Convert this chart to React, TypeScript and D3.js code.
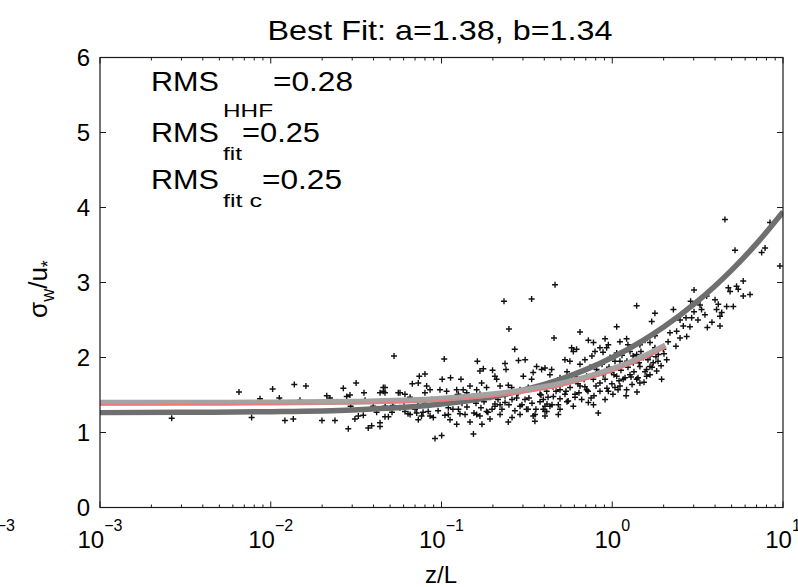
import React from 'react';
import * as d3 from 'd3';

const W = 798;
const H = 587;

// axis definitions
const xDomain: [number, number] = [1e-3, 10];
const yDomain: [number, number] = [0, 6];
const xTickExponents = [-3, -2, -1, 0, 1];
const yTicks = [0, 1, 2, 3, 4, 5, 6];

// HHF reference curve (dark grey)
const hhfZL = [0.001, 0.003, 0.01, 0.03, 0.1, 0.2, 0.3, 0.5, 0.7, 1, 1.5, 2, 3, 4, 5, 7, 10];
const hhfSigma = [1.265, 1.269, 1.277, 1.3, 1.379, 1.477, 1.563, 1.712, 1.838, 1.999, 2.222, 2.406, 2.708, 2.954, 3.165, 3.518, 3.942];

// best fit curve (light grey) and constrained fit (red)
const fitZL = [0.001, 0.003, 0.01, 0.03, 0.1, 0.2, 0.3, 0.5, 0.7, 1, 1.5, 2.05];
const fitSigma = [1.395, 1.397, 1.4, 1.41, 1.45, 1.51, 1.56, 1.65, 1.735, 1.845, 2.005, 2.16];
const fitCSigma = [1.37, 1.372, 1.376, 1.386, 1.425, 1.48, 1.53, 1.62, 1.705, 1.815, 1.975, 2.135];

// observations: [log10(z/L), sigma_w/u*]
const scatterPoints: [number, number][] = [
  [-2.58, 1.19], [-2.186, 1.54], [-2.112, 1.2], [-1.989, 1.58], [-1.95, 1.46], [-1.917, 1.16], [-1.868, 1.18],
  [-1.862, 1.64], [-1.794, 1.62], [-1.7, 1.16], [-1.672, 1.49], [-1.624, 1.16], [-1.575, 1.59], [-1.555, 1.48],
  [-1.5, 1.66], [-1.454, 1.53], [-1.546, 1.05], [-1.507, 1.18], [-1.487, 1.22], [-1.532, 1.35], [-1.429, 1.06],
  [-1.409, 1.09], [-1.458, 1.23], [-1.36, 1.53], [-1.341, 1.55], [-1.331, 1.6], [-1.38, 1.27], [-1.36, 1.13],
  [-1.36, 1.08], [-1.311, 1.21], [-1.278, 2.02], [-1.253, 1.53], [-1.4, 1.35], [-1.33, 1.35], [-1.285, 1.36],
  [-0.634, 2.75], [-0.472, 2.78], [-0.605, 2.38], [-0.571, 2.11], [-0.984, 1.98], [-0.79, 1.95], [-0.549, 1.96],
  [-0.51, 1.97], [-0.628, 1.92], [-0.755, 1.85], [-0.775, 1.82], [-0.701, 1.83], [-0.622, 1.84], [-0.443, 1.88],
  [-0.414, 1.84], [-1.13, 1.75], [-1.097, 1.78], [-1.171, 1.65], [-1.136, 1.66], [-0.996, 1.71], [-0.947, 1.73],
  [-0.886, 1.71], [-0.687, 1.75], [-0.677, 1.71], [-0.521, 1.75], [-0.472, 1.71], [-0.463, 1.8], [-0.765, 1.66],
  [-1.087, 1.62], [-1.067, 1.57], [-1.097, 1.53], [-1.009, 1.57], [-0.97, 1.55], [-0.911, 1.57], [-0.873, 1.57],
  [-0.833, 1.62], [-0.794, 1.57], [-0.736, 1.6], [-0.657, 1.62], [-0.609, 1.63], [-0.589, 1.6], [-0.54, 1.57],
  [-0.492, 1.6], [-0.423, 1.6], [-0.384, 1.62], [-1.243, 1.53], [-1.214, 1.51], [-1.341, 1.6], [-1.331, 1.53],
  [-1.214, 1.28], [-1.184, 1.24], [-1.145, 1.26], [-1.117, 1.22], [-1.078, 1.28], [-1.048, 1.2], [-1.136, 1.17],
  [-0.96, 1.33], [-0.96, 1.24], [-0.95, 1.17], [-0.911, 1.11], [-0.901, 1.31], [-0.833, 1.14], [-0.813, 0.98],
  [-1.038, 0.92], [-0.999, 0.96], [-0.794, 1.24], [-0.775, 1.22], [-0.736, 1.28], [-0.716, 1.18], [-0.687, 1.35],
  [-0.657, 1.37], [-0.628, 1.4], [-0.609, 1.14], [-0.56, 1.46], [-0.54, 1.35], [-0.502, 1.31], [-0.463, 1.22],
  [-0.453, 1.15], [-0.423, 1.51], [-0.394, 1.35], [-0.384, 1.28], [-0.901, 1.51], [-0.852, 1.53], [-0.813, 1.48],
  [-0.775, 1.51],
  [-0.335, 2.97], [0.143, 2.69], [0.25, 2.59], [0.358, 2.64], [0.231, 2.48], [0.309, 2.42], [0.026, 2.41],
  [-0.189, 2.34], [-0.341, 2.26], [-0.14, 2.23], [-0.11, 2.2], [-0.042, 2.25], [-0.023, 2.17], [0.084, 2.25],
  [0.162, 2.17], [0.221, 2.2], [0.338, 2.33], [0.377, 2.35], [0.416, 2.42], [0.397, 2.26], [0.436, 2.28],
  [-0.238, 2.13], [-0.228, 2.08], [-0.209, 2.11], [-0.101, 2.08], [-0.033, 2.13], [0.026, 2.06], [-0.277, 1.97],
  [-0.248, 1.95], [-0.189, 1.91], [-0.394, 1.86], [-0.355, 1.84], [-0.365, 1.77], [0.104, 2.08], [0.143, 2.04],
  [0.182, 2.0], [0.221, 2.02], [0.27, 2.04], [0.299, 2.11], [0.319, 1.97], [0.045, 1.95], [0.084, 1.91],
  [0.123, 1.93], [0.162, 1.88], [0.201, 1.84], [0.24, 1.93], [-0.033, 1.84], [-0.004, 1.8], [0.026, 1.75],
  [0.064, 1.71], [0.104, 1.77], [0.143, 1.71], [0.045, 1.62], [-0.15, 1.75], [-0.111, 1.71], [-0.072, 1.66],
  [-0.053, 1.77], [-0.092, 1.84], [-0.189, 1.62], [-0.15, 1.57], [-0.218, 1.51], [-0.179, 1.44], [-0.14, 1.4],
  [-0.11, 1.37], [-0.042, 1.44], [-0.306, 1.57], [-0.277, 1.51], [-0.345, 1.48], [-0.384, 1.55], [-0.404, 1.44],
  [-0.365, 1.35], [-0.316, 1.37], [-0.258, 1.42], [-0.228, 1.35], [-0.404, 1.31], [-0.394, 1.22], [-0.316, 1.24],
  [-0.082, 1.26], [0.289, 1.71], [0.221, 1.88], [0.26, 1.82], [0.162, 1.66], [0.201, 1.75], [0.084, 1.57],
  [0.016, 1.6], [-0.023, 1.55],
  [0.66, 3.84], [0.982, 3.22], [0.719, 3.43], [0.875, 3.4], [0.895, 3.46], [0.924, 3.8], [0.479, 2.9],
  [0.459, 2.75], [0.465, 2.53], [0.523, 2.64], [0.553, 2.82], [0.602, 2.77], [0.621, 2.71], [0.641, 2.6],
  [0.631, 2.55], [0.611, 2.64], [0.68, 2.93], [0.69, 2.88], [0.728, 2.95], [0.738, 2.91], [0.709, 2.68],
  [0.67, 2.68], [0.767, 3.02], [0.767, 2.82], [0.807, 2.84], [0.631, 2.42], [0.557, 2.4],
  [-0.013, 2.0], [0.016, 1.95], [0.057, 2.03], [0.092, 1.87], [0.127, 1.81], [0.168, 2.08], [0.209, 1.97],
  [0.25, 2.13], [-0.06, 1.91], [-0.083, 1.81], [-0.13, 1.87], [-0.165, 1.71], [-0.201, 1.65], [-0.247, 1.6],
  [-0.294, 1.65], [-0.329, 1.55], [-0.376, 1.47], [-0.423, 1.41], [-0.47, 1.39], [-0.511, 1.44], [-0.552, 1.52],
  [-0.587, 1.44], [-0.628, 1.49], [-0.669, 1.44], [-0.716, 1.47], [-0.751, 1.41], [-0.798, 1.39], [-0.833, 1.44],
  [-0.88, 1.39], [-0.921, 1.47], [-0.962, 1.41], [-1.009, 1.39], [-1.056, 1.44], [-1.097, 1.39], [-1.138, 1.41],
  [-1.184, 1.47], [-1.22, 1.41],
  [-0.042, 1.71], [-0.002, 1.65], [0.034, 1.57], [0.075, 1.73], [0.116, 1.64], [0.151, 1.73], [0.192, 1.81],
  [0.233, 1.87], [0.268, 1.95], [-0.072, 1.55], [-0.107, 1.49], [-0.142, 1.55], [-0.218, 1.47], [-0.265, 1.41],
  [-0.306, 1.31], [-0.353, 1.37], [-0.394, 1.28], [-0.452, 1.24], [-0.493, 1.31], [-0.54, 1.24], [-0.587, 1.2],
  [-0.657, 1.24], [-0.704, 1.31], [-0.763, 1.11], [-0.862, 1.24],
  [-0.054, 2.07], [-0.019, 1.87], [0.01, 1.77], [0.051, 1.83], [0.086, 1.95], [0.122, 2.02], [0.157, 1.93],
  [0.186, 1.67], [0.221, 1.77], [0.256, 2.01], [0.286, 1.89], [0.303, 2.05], [-0.031, 1.59], [0.004, 1.51],
  [0.04, 1.69], [0.081, 1.49], [0.11, 1.74], [0.145, 1.54], [-0.095, 1.62], [-0.124, 1.46], [-0.16, 1.61],
  [-0.195, 1.53], [-0.236, 1.69], [-0.271, 1.55], [-0.306, 1.45], [-0.347, 1.61], [-0.382, 1.38], [-0.417, 1.5],
  [-0.447, 1.31], [-0.488, 1.46], [-0.529, 1.37], [-0.57, 1.29], [-0.605, 1.37], [-0.646, 1.31], [-0.687, 1.38],
  [-0.728, 1.27], [-0.769, 1.33], [-0.81, 1.26], [-0.851, 1.34], [-0.892, 1.25], [-0.933, 1.31], [-0.98, 1.23],
  [-1.02, 1.29], [-1.067, 1.22], [-1.108, 1.27], [-1.155, 1.31], [-1.196, 1.25], [-1.243, 1.33], [-1.29, 1.27],
  [-1.331, 1.21],
  [-0.306, 1.73], [-0.265, 1.81], [-0.218, 1.75], [-0.16, 1.97], [-0.119, 2.02], [-0.072, 2.13], [0.045, 2.21],
  [0.092, 2.17], [0.192, 2.23], [0.25, 2.29], [0.327, 2.21], [0.373, 2.15], [0.455, 2.41], [0.502, 2.5],
  [0.543, 2.57], [0.584, 2.47], [0.514, 2.7], [0.432, 2.53], [0.397, 2.5], [0.479, 2.61],
  [-1.653, 1.46], [-1.536, 1.5], [-1.448, 1.43], [-1.829, 1.43], [-1.946, 1.41], [-2.063, 1.45],
];

const FONT = "'Liberation Sans', Arial, Helvetica, sans-serif";

export default function App() {
  const left = 100, right = 783, top = 57.5, bottom = 507.5;
  const x = d3.scaleLog().domain(xDomain).range([left, right]);
  const y = d3.scaleLinear().domain(yDomain).range([bottom, top]);

  const line = d3
    .line<[number, number]>()
    .x((d) => x(d[0]))
    .y((d) => y(d[1]))
    .curve(d3.curveMonotoneX);

  const hhfPath = line(hhfZL.map((z, i) => [z, hhfSigma[i]] as [number, number])) || '';
  const fitPath = line(fitZL.map((z, i) => [z, fitSigma[i]] as [number, number])) || '';
  const fitCPath = line(fitZL.map((z, i) => [z, fitCSigma[i]] as [number, number])) || '';

  const m = 3;
  const markerPath = scatterPoints
    .map(([lz, s]) => {
      const px = x(Math.pow(10, lz));
      const py = y(s);
      return `M${px - m},${py}H${px + m}M${px},${py - m}V${py + m}`;
    })
    .join('');

  const minorTicks: number[] = [];
  for (let e = -3; e < 1; e++) {
    for (let k = 2; k <= 9; k++) minorTicks.push(k * Math.pow(10, e));
  }

  const axisColor = '#1a1a1a';

  return (
    <svg
      width={W}
      height={H}
      viewBox={`0 0 ${W} ${H}`}
      style={{ position: 'absolute', left: 0, top: 0, background: '#fff' }}
      fontFamily={FONT}
    >
      <rect x={0} y={0} width={W} height={H} fill="#fff" />
      <defs>
        <clipPath id="plotClip">
          <rect x={left} y={top} width={right - left} height={bottom - top} />
        </clipPath>
      </defs>

      {/* stray label from neighbouring panel */}
      <text x={15} y={531} fontSize={16} textAnchor="end" fill="#000">−3</text>

      {/* title */}
      <text x={440} y={40} fontSize={28} textAnchor="middle" textLength={345} lengthAdjust="spacingAndGlyphs" fill="#000">
        Best Fit: a=1.38, b=1.34
      </text>

      {/* data */}
      <g clipPath="url(#plotClip)">
        <path d={markerPath} stroke="#111" strokeWidth={1.4} fill="none" />
        <path d={hhfPath} stroke="#6f6f6f" strokeWidth={5.5} fill="none" />
        <path d={fitPath} stroke="#a3a3a3" strokeWidth={6} fill="none" />
        <path d={fitCPath} stroke="#f07878" strokeWidth={1.3} fill="none" />
      </g>

      {/* box */}
      <rect x={left} y={top} width={right - left} height={bottom - top} fill="none" stroke={axisColor} strokeWidth={1.2} />

      {/* y ticks */}
      {yTicks.map((t) => (
        <g key={`y${t}`}>
          <line x1={left} x2={left + 6} y1={y(t)} y2={y(t)} stroke={axisColor} strokeWidth={1} />
          <line x1={right} x2={right - 6} y1={y(t)} y2={y(t)} stroke={axisColor} strokeWidth={1} />
          <text x={90} y={y(t)} dy="0.36em" fontSize={24} textAnchor="end" fill="#000">
            {t}
          </text>
        </g>
      ))}

      {/* x major ticks */}
      {xTickExponents.map((e) => {
        const px = x(Math.pow(10, e));
        return (
          <g key={`x${e}`}>
            <line x1={px} x2={px} y1={bottom} y2={bottom - 6} stroke={axisColor} strokeWidth={1} />
            <line x1={px} x2={px} y1={top} y2={top + 6} stroke={axisColor} strokeWidth={1} />
            <text x={px} y={548} fontSize={24} textAnchor="middle" fill="#000">
              10
              <tspan dy={-17} fontSize={16}>
                {e < 0 ? `−${-e}` : `${e}`}
              </tspan>
            </text>
          </g>
        );
      })}

      {/* x minor ticks */}
      {minorTicks.map((v, i) => (
        <g key={`m${i}`}>
          <line x1={x(v)} x2={x(v)} y1={bottom} y2={bottom - 3} stroke={axisColor} strokeWidth={1} />
          <line x1={x(v)} x2={x(v)} y1={top} y2={top + 3} stroke={axisColor} strokeWidth={1} />
        </g>
      ))}

      {/* axis labels */}
      <text x={441} y={583} fontSize={24} textAnchor="middle" fill="#000">z/L</text>
      <text transform="translate(47,289) rotate(-90)" fontSize={26} textAnchor="middle" fill="#000">
        σ<tspan fontSize={18} dy={7}>w</tspan>
        <tspan dy={-7}>/u</tspan>
        <tspan fontSize={18} dy={7}>*</tspan>
      </text>

      {/* RMS annotations */}
      <g fill="#000">
        <text x={151} y={90.5} fontSize={28} textLength={68} lengthAdjust="spacingAndGlyphs">RMS</text>
        <text x={223} y={117} fontSize={19} textLength={50} lengthAdjust="spacingAndGlyphs">HHF</text>
        <text x={273} y={90.5} fontSize={28} textLength={80} lengthAdjust="spacingAndGlyphs">=0.28</text>

        <text x={151} y={141.5} fontSize={28} textLength={68} lengthAdjust="spacingAndGlyphs">RMS</text>
        <text x={223} y={160} fontSize={19} textLength={19} lengthAdjust="spacingAndGlyphs">fit</text>
        <text x={242} y={141.5} fontSize={28} textLength={78} lengthAdjust="spacingAndGlyphs">=0.25</text>

        <text x={151} y={188.5} fontSize={28} textLength={68} lengthAdjust="spacingAndGlyphs">RMS</text>
        <text x={223} y={206.5} fontSize={19} textLength={39} lengthAdjust="spacingAndGlyphs">fit c</text>
        <text x={262} y={188.5} fontSize={28} textLength={80} lengthAdjust="spacingAndGlyphs">=0.25</text>
      </g>
    </svg>
  );
}
